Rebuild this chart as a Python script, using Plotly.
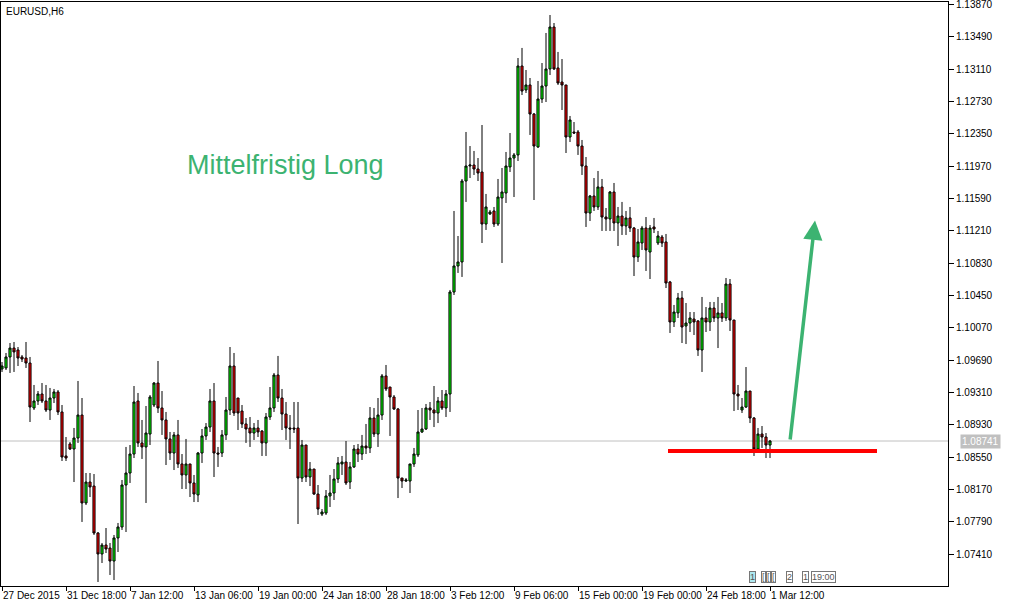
import plotly.graph_objects as go

# ---- data (EURUSD H6 candles) ----
opens = [1.09587,1.09599,1.09728,1.09833,1.09810,1.09728,1.09716,1.09657,1.09129,1.09211,
         1.09293,1.09211,1.09105,1.09246,1.09317,1.09082,1.08565,1.08706,1.08647,1.08776,
         1.09046,1.08013,1.08259,1.08212,1.07660,1.07414,1.07519,1.07484,1.07331,1.07602,
         1.07731,1.08224,1.08365,1.08588,1.09211,1.08718,1.08671,1.08823,1.09164,1.09422,
         1.09129,1.08988,1.08765,1.08600,1.08812,1.08471,1.08342,1.08471,1.08248,1.08107,
         1.08600,1.08800,1.08905,1.09211,1.08600,1.08600,1.08812,1.09105,1.09622,1.09246,
         1.09093,1.08941,1.08894,1.08835,1.08894,1.08858,1.08718,1.09023,1.09129,1.09516,
         1.09246,1.09058,1.08894,1.08894,1.08894,1.08306,1.08694,1.08318,1.08412,1.08118,
         1.07883,1.07895,1.08095,1.08130,1.08295,1.08471,1.08494,1.08259,1.08436,1.08647,
         1.08588,1.08682,1.08659,1.09011,1.08823,1.09046,1.09505,1.09375,1.09258,1.09117,
         1.08306,1.08271,1.08271,1.08471,1.08577,1.08847,1.08882,1.09129,1.09105,1.09070,
         1.09211,1.09129,1.09293,1.10491,1.10797,1.10844,1.11795,1.11971,1.11983,1.11936,
         1.11901,1.11290,1.11408,1.11443,1.11290,1.11596,1.11654,1.11960,1.12065,1.12101,
         1.13146,1.12864,1.12923,1.12582,1.12195,1.12758,1.12911,1.13111,1.13604,1.13123,
         1.12958,1.12923,1.12312,1.12371,1.12371,1.12206,1.11971,1.11419,1.11619,1.11490,
         1.11725,1.11372,1.11349,1.11666,1.11302,1.11384,1.11267,1.11361,1.11243,1.10902,
         1.11067,1.11243,1.10961,1.11255,1.11067,1.11137,1.11079,1.10609,1.10139,1.10245,
         1.10421,1.10092,1.10127,1.10174,1.10151,1.09810,1.10186,1.10139,1.10303,1.10186,
         1.10245,1.10186,1.10585,1.10162,1.09293,1.09105,1.09140,1.09328,1.09011,1.08647,
         1.08823,1.08788,1.08694]
highs = [1.09669,1.09775,1.09892,1.09904,1.09845,1.09751,1.09904,1.09728,1.09399,1.09328,
         1.09422,1.09399,1.09364,1.09352,1.09340,1.09164,1.08788,1.08729,1.08894,1.09446,
         1.09246,1.08365,1.08365,1.08353,1.07672,1.07543,1.07719,1.07543,1.07637,1.07778,
         1.08283,1.08671,1.08694,1.09387,1.09305,1.08988,1.09152,1.09281,1.09434,1.09681,
         1.09328,1.09082,1.08847,1.08847,1.08988,1.08588,1.08765,1.08471,1.08342,1.08612,
         1.08882,1.08952,1.09352,1.09422,1.08671,1.08870,1.09258,1.09845,1.09775,1.09246,
         1.09164,1.09011,1.09023,1.08952,1.08988,1.08870,1.09070,1.09375,1.09540,1.09740,
         1.09352,1.09199,1.09046,1.09199,1.09199,1.08753,1.08694,1.08494,1.08412,1.08224,
         1.07942,1.08165,1.08342,1.08412,1.08553,1.08565,1.08741,1.08494,1.08694,1.08706,
         1.08812,1.08941,1.09140,1.09129,1.09246,1.09528,1.09634,1.09375,1.09281,1.09129,
         1.08306,1.08306,1.08471,1.08659,1.09105,1.09129,1.09176,1.09199,1.09387,1.09258,
         1.09340,1.09340,1.10515,1.11443,1.11149,1.11819,1.12371,1.12206,1.12148,1.12065,
         1.12453,1.11643,1.11455,1.11490,1.11819,1.11948,1.12136,1.12359,1.12124,1.13240,
         1.13358,1.13099,1.13005,1.12594,1.12970,1.13181,1.13534,1.13745,1.13651,1.13311,
         1.13228,1.12923,1.12559,1.12488,1.12394,1.12277,1.12077,1.11631,1.11830,1.11913,
         1.11819,1.11478,1.11678,1.11772,1.11490,1.11549,1.11443,1.11490,1.11255,1.11231,
         1.11267,1.11372,1.11278,1.11361,1.11208,1.11161,1.11173,1.10621,1.10339,1.10480,
         1.10503,1.10362,1.10256,1.10256,1.10162,1.10433,1.10315,1.10374,1.10374,1.10433,
         1.10362,1.10656,1.10644,1.10162,1.09399,1.09246,1.09610,1.09328,1.09023,1.08894,
         1.08917,1.08835,1.08753]
lows = [1.09552,1.09575,1.09540,1.09552,1.09622,1.09669,1.09599,1.08964,1.09105,1.09164,
        1.09187,1.09082,1.08988,1.09187,1.09046,1.08506,1.08506,1.08635,1.08259,1.08718,
        1.07790,1.07989,1.08083,1.07637,1.07085,1.07308,1.07425,1.07167,1.07108,1.07437,
        1.07696,1.07672,1.08248,1.08541,1.08671,1.08530,1.08013,1.08694,1.09140,1.09070,
        1.08812,1.08459,1.08518,1.08400,1.08424,1.08177,1.08177,1.08083,1.08024,1.08024,
        1.08483,1.08753,1.08847,1.08318,1.08436,1.08553,1.08753,1.09046,1.09035,1.08870,
        1.08894,1.08718,1.08671,1.08753,1.08788,1.08565,1.08565,1.08988,1.09082,1.09199,
        1.08870,1.08753,1.08647,1.08835,1.07766,1.08259,1.08259,1.08212,1.08107,1.07872,
        1.07860,1.07872,1.07966,1.08048,1.08248,1.08342,1.08224,1.08177,1.08424,1.08494,
        1.08518,1.08588,1.08600,1.08788,1.08671,1.08988,1.09328,1.08800,1.09105,1.08071,
        1.08189,1.08259,1.08130,1.08436,1.08553,1.08835,1.08870,1.08988,1.08905,1.08952,
        1.09105,1.09023,1.09082,1.10456,1.10715,1.10668,1.11549,1.11830,1.11866,1.11795,
        1.11067,1.11220,1.11396,1.11255,1.11267,1.10832,1.11537,1.11901,1.11607,1.12030,
        1.12805,1.12829,1.12336,1.11572,1.12183,1.12712,1.12723,1.13040,1.13099,1.12923,
        1.12629,1.12124,1.12253,1.12347,1.12101,1.11866,1.11255,1.11325,1.11443,1.11455,
        1.11208,1.11208,1.11208,1.11208,1.11032,1.11161,1.11161,1.11196,1.10679,1.10844,
        1.10985,1.10738,1.10644,1.11184,1.11043,1.11020,1.10538,1.10010,1.10080,1.10186,
        1.09892,1.09880,1.10021,1.09986,1.09740,1.09552,1.10021,1.10033,1.10139,1.09833,
        1.10139,1.10151,1.10033,1.09093,1.09105,1.09070,1.09129,1.08952,1.08565,1.08635,
        1.08659,1.08541,1.08541]
closes = [1.09622,1.09728,1.09833,1.09787,1.09716,1.09704,1.09657,1.09140,1.09211,1.09293,
          1.09211,1.09105,1.09246,1.09317,1.09082,1.08553,1.08541,1.08647,1.08776,1.09046,
          1.08013,1.08259,1.08201,1.07660,1.07414,1.07519,1.07472,1.07331,1.07602,1.07731,
          1.08224,1.08365,1.08588,1.09199,1.08718,1.08671,1.08835,1.09258,1.09422,1.09129,
          1.08988,1.08765,1.08600,1.08812,1.08471,1.08342,1.08471,1.08248,1.08118,1.08600,
          1.08800,1.08905,1.09211,1.08600,1.08588,1.08812,1.09105,1.09622,1.09070,1.09070,
          1.08941,1.08882,1.08835,1.08894,1.08847,1.08718,1.09023,1.09129,1.09516,1.09246,
          1.09058,1.08894,1.08882,1.08882,1.08306,1.08694,1.08318,1.08412,1.08118,1.07942,
          1.07907,1.08095,1.08130,1.08295,1.08483,1.08494,1.08248,1.08436,1.08647,1.08588,
          1.08682,1.08659,1.09011,1.08823,1.09046,1.09505,1.09352,1.09258,1.09117,1.08306,
          1.08271,1.08283,1.08471,1.08588,1.08847,1.08882,1.09129,1.09105,1.09070,1.09211,
          1.09129,1.09293,1.10491,1.10797,1.10844,1.11795,1.11971,1.11983,1.11936,1.11889,
          1.11290,1.11490,1.11431,1.11290,1.11607,1.11666,1.11971,1.12065,1.12101,1.13146,
          1.12852,1.12923,1.12582,1.12206,1.12758,1.12911,1.13111,1.13604,1.13111,1.12946,
          1.12923,1.12312,1.12512,1.12359,1.12206,1.11971,1.11419,1.11619,1.11490,1.11725,
          1.11372,1.11349,1.11666,1.11302,1.11384,1.11267,1.11361,1.11243,1.10902,1.11079,
          1.11243,1.10985,1.11243,1.11231,1.11149,1.11067,1.10597,1.10139,1.10256,1.10421,
          1.10080,1.10127,1.10186,1.10139,1.09810,1.10186,1.10139,1.10303,1.10186,1.10245,
          1.10186,1.10585,1.10162,1.09293,1.09270,1.09140,1.09328,1.09011,1.08647,1.08823,
          1.08788,1.08694,1.08741]

bar_index = list(range(len(opens)))

x_tick_pos = [0, 16, 32, 48, 64, 80, 96, 112, 128, 144, 160, 176, 192]
x_tick_text = ["27 Dec 2015", "31 Dec 18:00", "7 Jan 12:00", "13 Jan 06:00", "19 Jan 00:00",
               "24 Jan 18:00", "28 Jan 18:00", "3 Feb 12:00", "9 Feb 06:00", "15 Feb 00:00",
               "19 Feb 00:00", "24 Feb 18:00", "1 Mar 12:00"]
y_ticks = [1.07410, 1.07790, 1.08170, 1.08550, 1.08930, 1.09310, 1.09690, 1.10070, 1.10450,
           1.10830, 1.11210, 1.11590, 1.11970, 1.12350, 1.12730, 1.13110, 1.13490, 1.13870]

current_price = 1.08741
support_level = 1.08624
support_from, support_to = 166.5, 218.75
arrow_start = (197.0, 1.08741)
arrow_end = (203.25, 1.11330)
label_pos = (70.75, 1.11983)
label_text = "Mittelfristig Long"
scale_widgets = [("1", 756, "#aee8f0"), ("[", 766, None), ("[", 771, None), ("[", 776, None),
                 ("2", 793, None), ("1", 809, None), ("19:00", 836, None)]

FONT = "Liberation Sans, Arial, sans-serif"
PLOT_L, PLOT_R, PLOT_T, PLOT_B = 1, 948, 2, 586

fig = go.Figure()
fig.add_trace(go.Candlestick(
    x=bar_index, open=opens, high=highs, low=lows, close=closes,
    increasing=dict(fillcolor="#00ff00", line=dict(color="black", width=1)),
    decreasing=dict(fillcolor="#ff0000", line=dict(color="black", width=1)),
    whiskerwidth=0, showlegend=False, hoverinfo="skip",
))

fig.update_layout(
    width=1011, height=608,
    margin=dict(l=PLOT_L, r=1011 - PLOT_R, t=PLOT_T, b=608 - PLOT_B),
    paper_bgcolor="white", plot_bgcolor="white",
    showlegend=False,
    font=dict(family=FONT, size=10, color="black"),
    boxgap=0.25,
)
fig.update_xaxes(
    range=[-0.25, 236.5], rangeslider=dict(visible=False), automargin=False,
    showgrid=False, zeroline=False,
    showline=True, linecolor="black", linewidth=1, mirror=True,
    tickmode="array", tickvals=x_tick_pos, ticktext=x_tick_text,
    ticks="outside", ticklen=4, tickcolor="black", tickangle=0,
    ticklabelposition="outside right", ticklabeloverflow="allow",
    tickfont=dict(family=FONT, size=10, color="black"),
)
fig.update_yaxes(
    range=[1.070377, 1.138978], side="right", automargin=False,
    showgrid=False, zeroline=False,
    showline=True, linecolor="black", linewidth=1, mirror=True,
    tickmode="array", tickvals=y_ticks, ticktext=[f"{v:.5f}" for v in y_ticks],
    ticks="outside", ticklen=5, tickcolor="black", ticklabeloverflow="allow",
    tickfont=dict(family=FONT, size=10, color="black"),
)

# current price line (behind candles)
fig.add_shape(type="line", xref="paper", yref="y", x0=0, x1=1,
              y0=current_price, y1=current_price,
              line=dict(color="#c0c0c0", width=1), layer="below")
# support line
fig.add_shape(type="line", xref="x", yref="y", x0=support_from, x1=support_to,
              y0=support_level, y1=support_level,
              line=dict(color="#ff0000", width=4), layer="above")

# arrow
fig.add_annotation(x=arrow_end[0], y=arrow_end[1], ax=arrow_start[0], ay=arrow_start[1],
                   xref="x", yref="y", axref="x", ayref="y", text="",
                   showarrow=True, arrowhead=2, arrowsize=1.1, arrowwidth=3.5,
                   arrowcolor="#3cb371")
# label
fig.add_annotation(x=label_pos[0], y=label_pos[1], xref="x", yref="y",
                   text=label_text, showarrow=False,
                   font=dict(family=FONT, size=27, color="#3cb371"))
# symbol label
fig.add_annotation(x=3 / 947, y=(PLOT_B - 11) / 584, xref="paper", yref="paper",
                   text="EURUSD,H6", showarrow=False, xanchor="left", yanchor="middle",
                   font=dict(family=FONT, size=10, color="black"))
# current price tag
fig.add_annotation(x=1, y=current_price, xref="paper", yref="y",
                   text=f"{current_price:.5f}", showarrow=False,
                   xanchor="left", xshift=12, bgcolor="#c0c0c0",
                   font=dict(family=FONT, size=10, color="white"), borderpad=1)

# small scale widgets at bottom right
for txt, xp, bg in scale_widgets:
    fig.add_annotation(x=(xp - PLOT_L) / 947, y=(PLOT_B - 577) / 584,
                       xref="paper", yref="paper", yanchor="middle",
                       text=txt, showarrow=False,
                       font=dict(family=FONT, size=9, color="#555555"),
                       bgcolor=bg, bordercolor="#777777", borderwidth=1, borderpad=0)

fig.write_html("out.html", config={"displayModeBar": False},
               post_script="document.body.style.margin='0';document.body.style.overflow='hidden';")
